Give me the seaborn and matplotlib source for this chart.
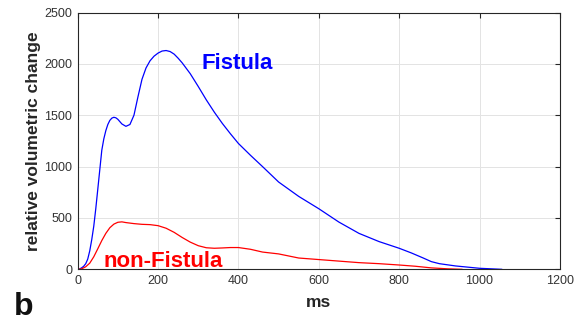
import matplotlib
matplotlib.use("Agg")
import matplotlib.pyplot as plt
import seaborn as sns
import pandas as pd

# Fistula curve (ms, relative volumetric change)
fistula_ms = [0, 5, 10, 15, 20, 25, 30, 35, 40, 45, 50, 55, 60, 65, 70, 75, 80, 85, 90, 95,
              100, 110, 120, 130, 140, 150, 160, 170, 180, 190, 200, 210, 220, 230, 240,
              250, 260, 280, 300, 320, 340, 360, 380, 400, 430, 460, 500, 550, 600, 650,
              700, 750, 800, 830, 860, 880, 900, 940, 1000, 1056]
fistula_val = [0, 4, 15, 30, 55, 100, 180, 290, 420, 590, 780, 970, 1160, 1270, 1350, 1410,
               1450, 1472, 1480, 1475, 1460, 1415, 1392, 1410, 1500, 1680, 1850, 1960, 2030,
               2075, 2105, 2125, 2130, 2120, 2095, 2055, 2010, 1905, 1780, 1650, 1530, 1420,
               1320, 1225, 1110, 1000, 850, 710, 590, 460, 350, 270, 205, 160, 110, 75, 55,
               33, 10, 0]

# non-Fistula curve
nonfistula_ms = [0, 10, 20, 30, 40, 50, 60, 70, 80, 90, 100, 110, 120, 140, 160, 180, 200,
                 220, 240, 260, 280, 300, 320, 340, 360, 380, 400, 430, 460, 500, 550, 600,
                 650, 700, 750, 800, 840, 880, 920, 957]
nonfistula_val = [0, 5, 25, 60, 122, 200, 280, 350, 405, 440, 458, 462, 455, 445, 438, 435,
                  425, 400, 360, 310, 265, 230, 210, 205, 208, 212, 212, 195, 168, 150, 110,
                  95, 80, 65, 55, 42, 30, 14, 5, 0]

x_ticks = [0, 200, 400, 600, 800, 1000, 1200]
y_ticks = [0, 500, 1000, 1500, 2000, 2500]

sns.set_style("whitegrid")
plt.rcParams['font.family'] = ['Liberation Sans', 'DejaVu Sans']

df = pd.concat([
    pd.DataFrame({"ms": fistula_ms, "val": fistula_val, "group": "Fistula"}),
    pd.DataFrame({"ms": nonfistula_ms, "val": nonfistula_val, "group": "non-Fistula"}),
])

fig = plt.figure(figsize=(5.82, 3.21), dpi=100)
ax = fig.add_axes([0.1335, 0.161, 0.8285, 0.8])

sns.lineplot(data=df, x="ms", y="val", hue="group", sort=False,
             palette={"Fistula": "#0000ff", "non-Fistula": "#ff0000"},
             linewidth=0.9, legend=False, ax=ax, estimator=None)

ax.set_xlim(0, 1200)
ax.set_ylim(0, 2500)
ax.set_xticks(x_ticks)
ax.set_yticks(y_ticks)
ax.grid(True, color="#e3e3e3", linewidth=0.7)
for s in ax.spines.values():
    s.set_visible(True)
    s.set_color("#262626")
    s.set_linewidth(0.8)
ax.tick_params(direction="in", length=3.5, width=0.8, color="#262626",
               top=True, right=True, labelsize=9, labelcolor="#333333", pad=4)

ax.set_xlabel("ms", fontsize=12.5, fontweight="bold", color="#262626", labelpad=6)
ax.set_ylabel("relative volumetric change", fontsize=12.5, fontweight="bold",
              color="#262626", labelpad=2)

ax.text(308, 2000, "Fistula", color="#0000ff", fontsize=16, fontweight="bold",
        ha="left", va="center")
ax.text(63, 72, "non-Fistula", color="#ff0000", fontsize=16, fontweight="bold",
        ha="left", va="center")

fig.text(0.024, 0.019, "b", fontsize=23, fontweight="bold", color="#111111",
         ha="left", va="baseline")

fig.savefig("out.png", dpi=100)
